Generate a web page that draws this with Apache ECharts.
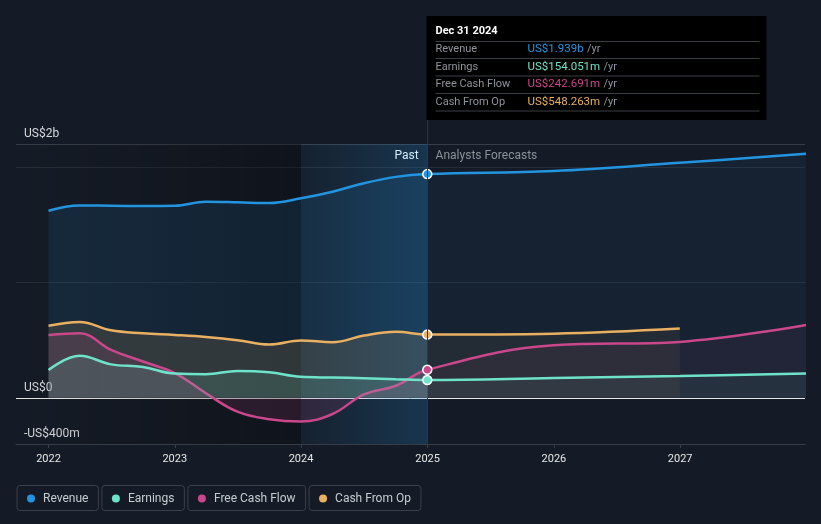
<!DOCTYPE html>
<html><head><meta charset="utf-8">
<script src="https://cdn.jsdelivr.net/npm/echarts@6/dist/echarts.min.js"></script>
<style>html,body{margin:0;padding:0;background:#151b26;}#c{width:821px;height:524px;}</style>
</head><body><div id="c"></div>
<script>
// ---- data ----
const pastDates = ['2022-01-01','2022-04-01','2022-07-01','2022-10-01','2023-01-01','2023-04-01','2023-07-01','2023-10-01','2024-01-01','2024-04-01','2024-07-01','2024-10-01','2024-12-31'];
const forecastDates = ['2025-12-31','2026-12-31','2027-12-31'];
const revenue  = [1622,1668,1665,1663,1665,1700,1695,1688,1729,1786,1860,1915,1939, 1965,2037,2115];
const earnings = [242,364,290,268,210,205,233,222,182,176,170,162,154, 172,190,210];
const fcf      = [545,560,416,315,215,40,-120,-185,-205,-140,30,105,243, 455,485,632];
const cfo      = [625,658,585,560,545,527,500,462,497,482,540,572,548, 556,600];
const seriesNames  = ['Revenue','Earnings','Free Cash Flow','Cash From Op'];
const seriesColors = ['#2394df','#6fe3c9','#c9478a','#e9b062'];
const yTickLabels = {'-400':'-US$400m','0':'US$0','2200':'US$2b'};
const xMin = '2021-09-29', xMax = '2027-12-28';
const nowDate = '2025-01-01';
const shadeStart = '2024-01-01';
const tooltipTitle = 'Dec 31 2024';
const tooltipValues = ['US$1.939b','US$154.051m','US$242.691m','US$548.263m'];

// ---- chart ----
const chart = echarts.init(document.getElementById('c'));
const allDates = pastDates.concat(forecastDates);
const values = [revenue, earnings, fcf, cfo];
const zOrder = [3, 6, 5, 4];
const FONT = 'Roboto';
const t = d => new Date(d).getTime();

function hexA(hex, a){
  const n = parseInt(hex.slice(1),16);
  return `rgba(${(n>>16)&255},${(n>>8)&255},${n&255},${a})`;
}

const lineSeries = values.map((vals, si) => {
  const data = vals.map((v,i) => {
    const item = {value:[allDates[i], v]};
    if (i === pastDates.length-1) {
      item.symbol = 'circle';
      item.symbolSize = 9;
    }
    return item;
  });
  const start = t(allDates[0]), end = t(allDates[vals.length-1]);
  const off = (t(nowDate)-start)/(end-start);
  const pa = si===0 ? 0.17 : 0.2, fa = 0.09;
  return {
    name: seriesNames[si], type:'line', data,
    symbol:'none', showSymbol:true, smooth:0.4,
    z: zOrder[si],
    lineStyle:{color:seriesColors[si], width:2.5},
    itemStyle:{color:seriesColors[si], borderColor:'#ffffff', borderWidth:1.5},
    areaStyle:{color:{type:'linear',x:0,y:0,x2:1,y2:0,colorStops:[
      {offset:0,color:hexA(seriesColors[si],pa)},
      {offset:off,color:hexA(seriesColors[si],pa)},
      {offset:Math.min(1,off+0.0005),color:hexA(seriesColors[si],fa)},
      {offset:1,color:hexA(seriesColors[si],fa)}]}},
    emphasis:{disabled:true}, silent:true
  };
});

const bgSeries = {
  type:'line', name:'bg', data:[[xMin,0]], symbol:'none', z:1, silent:true,
  lineStyle:{opacity:0},
  markArea:{silent:true, data:[
    [{xAxis:xMin, itemStyle:{color:{type:'linear',x:0,y:0,x2:1,y2:0,colorStops:[
      {offset:0,color:'rgba(0,0,0,0)'},{offset:1,color:'rgba(0,0,0,0.28)'}]}}},{xAxis:shadeStart}],
    [{xAxis:shadeStart, itemStyle:{color:{type:'linear',x:0,y:0,x2:1,y2:0,colorStops:[
      {offset:0,color:'rgba(35,148,223,0.05)'},{offset:1,color:'rgba(35,148,223,0.22)'}]}}},{xAxis:nowDate}]
  ]},
  markLine:{silent:true, symbol:'none', label:{show:false},
    lineStyle:{color:'#2a3848', width:1, type:'solid'},
    data:[{xAxis:nowDate}]}
};

const legendRich = {t:{padding:[0,0,0,8], color:'#c8ccd2', fontSize:12, fontFamily:FONT}};
seriesNames.forEach((n,i)=>{ legendRich['d'+i] = {width:8,height:8,borderRadius:4,backgroundColor:seriesColors[i]}; });

const splitColors = [];
for (let v=-400; v<=2200; v+=200) {
  if (v===0) splitColors.push('#e6e6e6');
  else if (v===1000 || v===2000) splitColors.push('#272d37');
  else if (v===2200) splitColors.push('#383e47');
  else splitColors.push('rgba(0,0,0,0)');
}

chart.setOption({
  backgroundColor:'#151b26',
  animation:false,
  textStyle:{fontFamily:FONT},
  grid:{left:16, right:16, top:144, bottom:80},
  xAxis:{type:'time', min:xMin, max:xMax,
    axisLine:{onZero:false, lineStyle:{color:'#383e47'}},
    axisTick:{show:true, length:4, lineStyle:{color:'#383e47'}},
    splitLine:{show:false},
    axisLabel:{color:'#e8e8e8', fontSize:11, fontFamily:FONT, margin:10,
      formatter: v => { const d = new Date(v); return (d.getMonth()===0 && d.getDate()===1) ? String(d.getFullYear()) : ''; }}
  },
  yAxis:{type:'value', min:-400, max:2200, interval:200,
    axisLine:{show:false}, axisTick:{show:false},
    splitLine:{show:true, lineStyle:{color:splitColors, width:1}},
    axisLabel:{inside:true, margin:8, color:'#d6d9dd', fontSize:12, fontFamily:FONT,
      verticalAlign:'bottom', padding:[0,0,4,0],
      formatter: v => yTickLabels[String(v)] || ''}
  },
  legend:{left:7, top:480, itemGap:-2, itemWidth:0, itemHeight:0, icon:'none',
    data:seriesNames, selectedMode:false,
    formatter: name => `{d${seriesNames.indexOf(name)}| }{t|${name}}`,
    textStyle:{color:'#c8ccd2', fontSize:12, fontFamily:FONT, borderColor:'#394049', borderWidth:1,
      borderRadius:3, padding:[7,10,6,10], rich:legendRich}
  },
  series:[bgSeries].concat(lineSeries)
});

// overlays: tooltip panel, Past / Forecast labels
const xNow = chart.convertToPixel({xAxisIndex:0}, t(nowDate));
const gridTop = chart.convertToPixel({yAxisIndex:0}, 2200);
const boxL = Math.round(xNow) - 1.5, boxT = 16, boxW = 340, boxH = 104;
const rowY = [49.5, 67, 84.5, 102];
const sepY = [41.5, 58.5, 76, 93.5, 111];
const g = [
  {type:'line', shape:{x1:xNow,y1:boxT+boxH,x2:xNow,y2:gridTop}, style:{stroke:'#2a3848', lineWidth:1}, silent:true},
  {type:'rect', shape:{x:boxL,y:boxT,width:boxW,height:boxH}, style:{fill:'#000000'}, silent:true},
  {type:'text', x:boxL+9, y:31, style:{text:tooltipTitle, fill:'#ffffff', font:'bold 11px '+FONT, verticalAlign:'middle'}, silent:true},
  {type:'text', x:xNow-9, y:156, style:{text:'Past', fill:'#ffffff', font:'12px '+FONT, align:'right', verticalAlign:'middle'}, silent:true},
  {type:'text', x:xNow+8, y:156, style:{text:'Analysts Forecasts', fill:'#8b9199', font:'12px '+FONT, verticalAlign:'middle'}, silent:true}
];
sepY.forEach(y => g.push({type:'line', shape:{x1:boxL+9,y1:y,x2:boxL+333,y2:y}, style:{stroke:'#3a3f46', lineWidth:1}, silent:true}));
seriesNames.forEach((n,i) => {
  g.push({type:'text', x:boxL+9, y:rowY[i], style:{text:n, fill:'#8e949c', font:'11px '+FONT, verticalAlign:'middle'}, silent:true});
  g.push({type:'text', x:boxL+101, y:rowY[i], style:{text:`{v|${tooltipValues[i]}} {u|/yr}`, verticalAlign:'middle',
    rich:{v:{fill:seriesColors[i], fontSize:11.5, fontFamily:FONT}, u:{fill:'#8e949c', fontSize:11, fontFamily:FONT}}}, silent:true});
});
chart.setOption({graphic:g});
</script>
</body></html>
